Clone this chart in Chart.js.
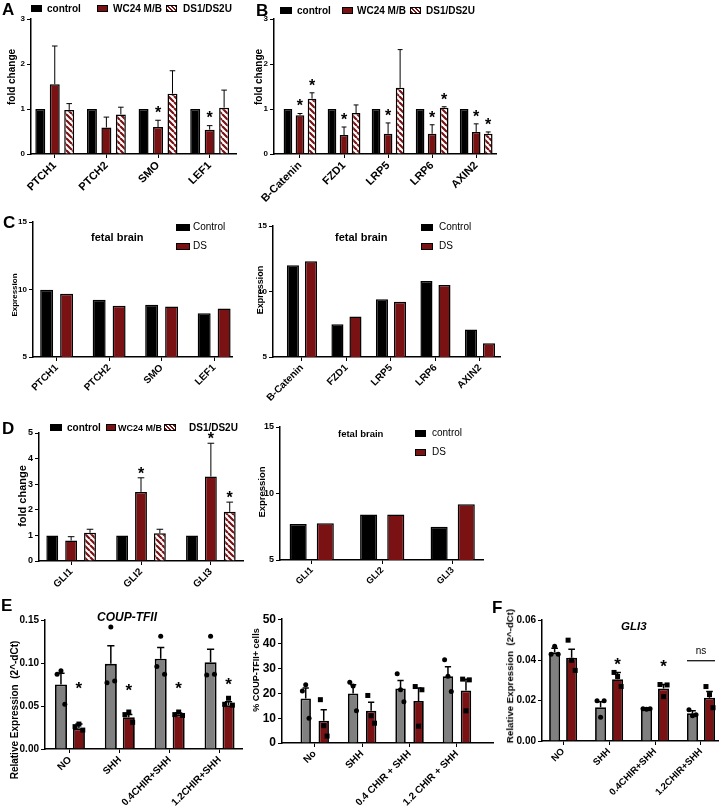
<!DOCTYPE html>
<html>
<head>
<meta charset="utf-8">
<script src="https://cdn.jsdelivr.net/npm/chart.js@4.4.0/dist/chart.umd.min.js"></script>
<style>
  body { margin: 0; background: #fff; }
  #fig { position: relative; width: 726px; height: 809px; overflow: hidden; font-family: "Liberation Sans", Arial, sans-serif; color: #000; }
  #fig canvas { position: absolute; }
  .t { position: absolute; white-space: pre; line-height: 1; transform: translateY(-50%); }
  .r { transform: translate(-50%, -50%) rotate(-90deg); }
  .sw { position: absolute; box-sizing: border-box; border: 1.5px solid #000; }
</style>
</head>
<body>
<div id="fig"></div>
<script>
// ---- A: hedgehog / wnt genes, fold change (bar top = mean, err = mean + sd)
const genesA = ['PTCH1', 'PTCH2', 'SMO', 'LEF1'];
const ctrlA = [1, 1, 1, 1];
const wcA = [1.55, 0.59, 0.6, 0.54];
const wcErrA = [2.4, 0.82, 0.75, 0.63];
const dsA = [0.98, 0.88, 1.34, 1.03];
const dsErrA = [1.12, 1.04, 1.85, 1.42];
const starWcA = [false, false, true, true];
const starDsA = [false, false, false, false];

// ---- B
const genesB = ['B-Catenin', 'FZD1', 'LRP5', 'LRP6', 'AXIN2'];
const ctrlB = [1, 1, 1, 1, 1];
const wcB = [0.86, 0.42, 0.45, 0.45, 0.49];
const wcErrB = [0.9, 0.6, 0.69, 0.65, 0.67];
const dsB = [1.23, 0.91, 1.47, 1.03, 0.45];
const dsErrB = [1.36, 1.09, 2.32, 1.05, 0.49];
const starWcB = [true, true, true, true, true];
const starDsB = [true, false, false, true, true];

// ---- C: fetal brain expression
const genesC1 = ['PTCH1', 'PTCH2', 'SMO', 'LEF1'];
const ctrlC1 = [9.98, 9.25, 8.87, 8.25];
const dsC1 = [9.68, 8.8, 8.75, 8.6];
const genesC2 = ['B-Catenin', 'FZD1', 'LRP5', 'LRP6', 'AXIN2'];
const ctrlC2 = [12.0, 7.5, 9.4, 10.8, 7.1];
const dsC2 = [12.3, 8.1, 9.22, 10.5, 6.05];

// ---- D
const genesD = ['GLI1', 'GLI2', 'GLI3'];
const ctrlD = [1, 1, 1];
const wcD = [0.8, 2.7, 3.3];
const wcErrD = [0.95, 3.25, 4.6];
const dsD = [1.1, 1.08, 1.92];
const dsErrD = [1.24, 1.24, 2.3];
const starWcD = [false, true, true];
const starDsD = [false, false, true];
const ctrlD2 = [7.7, 8.43, 7.5];
const dsD2 = [7.76, 8.43, 9.2];

// ---- E left: COUP-TFII qPCR
const condE1 = ['NO', 'SHH', '0.4CHIR+SHH', '1.2CHIR+SHH'];
const grayE1 = [0.075, 0.099, 0.105, 0.101];
const grayErrE1 = [0.088, 0.12, 0.118, 0.116];
const grayPtsE1 = [[0.091, 0.087, 0.052], [0.142, 0.077, 0.079], [0.131, 0.096, 0.087], [0.131, 0.086, 0.087]];
const redE1 = [0.024, 0.037, 0.040, 0.051];
const redErrE1 = [0.029, 0.040, 0.042, 0.055];
const redPtsE1 = [[0.029, 0.026, 0.022], [0.043, 0.040, 0.031], [0.043, 0.040, 0.039], [0.059, 0.052, 0.051]];
const starE1 = [0.075, 0.073, 0.075, 0.079];

// ---- E right: % COUP-TFII+ cells
const condE2 = ['No', 'SHH', '0.4 CHIR + SHH', '1.2 CHIR + SHH'];
const grayE2 = [18, 20, 22, 27];
const grayErrE2 = [22.2, 23.5, 25.2, 30.8];
const grayPtsE2 = [[23.5, 21, 10], [23, 24.5, 13], [21.5, 28, 16.7], [27, 33.6, 20.8]];
const redE2 = [9, 13, 17, 21.2];
const redErrE2 = [13.4, 16.5, 22.2, 25.7];
const redPtsE2 = [[7, 17.5, 2.8], [11, 19.2, 8], [6.8, 22.8, 21.5], [13, 25.8, 25.5]];

// ---- F: GLI3 qPCR
const condF = ['NO', 'SHH', '0.4CHIR+SHH', '1.2CHIR+SHH'];
const grayF = [0.044, 0.0167, 0.016, 0.0138];
const grayErrF = [0.046, 0.0195, 0.0165, 0.015];
const grayPtsF = [[0.047, 0.043, 0.043], [0.0118, 0.020, 0.020], [0.0158, 0.016, 0.016], [0.0125, 0.0155, 0.013]];
const redF = [0.0413, 0.0306, 0.026, 0.0215];
const redErrF = [0.0455, 0.034, 0.028, 0.0245];
const redPtsF = [[0.040, 0.050, 0.035], [0.032, 0.034, 0.027], [0.022, 0.028, 0.0278], [0.023, 0.027, 0.0165]];
const starF = [null, 0.040, 0.039, null];
const nsF = [null, null, null, 0.0398];

const FONT = '"Liberation Sans", Arial, sans-serif';
const RED = '#7a1214';
const GRAY = '#808080';
const JITTER = [0, -0.32, 0.32];
Chart.defaults.font.family = FONT;
Chart.defaults.color = '#000';

const fig = document.getElementById('fig');

function hatchPattern() {
  const c = document.createElement('canvas');
  c.width = 6; c.height = 6;
  const g = c.getContext('2d');
  g.fillStyle = '#fff'; g.fillRect(0, 0, 6, 6);
  g.strokeStyle = RED; g.lineWidth = 2.2;
  g.beginPath();
  for (let k = -6; k <= 6; k += 6) { g.moveTo(k, 0); g.lineTo(k + 6, 6); }
  g.stroke();
  return g.createPattern(c, 'repeat');
}
const HATCH = hatchPattern();

// error bars, dots, stars drawn on top of the bars
const overlay = {
  id: 'overlay',
  afterDatasetsDraw(chart, args, o) {
    const ctx = chart.ctx, ys = chart.scales.y;
    ctx.save();
    chart.data.datasets.forEach((ds, di) => {
      const meta = chart.getDatasetMeta(di);
      meta.data.forEach((bar, i) => {
        const x = bar.x, w = bar.width;
        let top = bar.y;
        if (ds.errTop && ds.errTop[i] != null) {
          const ey = ys.getPixelForValue(ds.errTop[i]);
          ctx.strokeStyle = '#000'; ctx.lineWidth = o.errWidth;
          ctx.beginPath();
          ctx.moveTo(x, bar.y); ctx.lineTo(x, ey);
          ctx.moveTo(x - w * o.cap, ey); ctx.lineTo(x + w * o.cap, ey);
          ctx.stroke();
          top = Math.min(top, ey);
        }
        if (ds.pts) {
          ctx.fillStyle = '#000';
          ds.pts[i].forEach((v, k) => {
            const px = x + JITTER[k % 3] * w;
            const py = ys.getPixelForValue(v);
            if (ds.ptStyle === 'square') {
              ctx.fillRect(px - o.pr, py - o.pr, o.pr * 2, o.pr * 2);
            } else {
              ctx.beginPath(); ctx.arc(px, py, o.pr, 0, Math.PI * 2); ctx.fill();
            }
          });
        }
        let sy = null;
        if (ds.starAbove && ds.starAbove[i]) sy = top - o.starGap;
        if (ds.starAt && ds.starAt[i] != null) sy = ys.getPixelForValue(ds.starAt[i]);
        if (sy != null) {
          ctx.fillStyle = '#000';
          ctx.font = `bold ${o.starSize}px ${FONT}`;
          ctx.textAlign = 'center'; ctx.textBaseline = 'alphabetic';
          ctx.fillText('*', x, sy + o.starSize * 0.55);
        }
        if (ds.nsAt && ds.nsAt[i] != null) {
          const first = chart.getDatasetMeta(0).data[i];
          const ly = ys.getPixelForValue(ds.nsAt[i]);
          const x0 = first.x - first.width / 2, x1 = x + w / 2;
          ctx.strokeStyle = '#000'; ctx.lineWidth = 1.2;
          ctx.beginPath(); ctx.moveTo(x0, ly); ctx.lineTo(x1, ly); ctx.stroke();
          ctx.fillStyle = '#000';
          ctx.font = `10px ${FONT}`;
          ctx.textAlign = 'center'; ctx.textBaseline = 'bottom';
          ctx.fillText('ns', (x0 + x1) / 2, ly - 4);
        }
      });
    });
    ctx.restore();
  }
};

function makeChart(p) {
  const cv = document.createElement('canvas');
  cv.width = p.box.w; cv.height = p.box.h;
  cv.style.left = p.box.x + 'px'; cv.style.top = p.box.y + 'px';
  fig.appendChild(cv);
  return new Chart(cv, {
    type: 'bar',
    data: {
      datasets: p.sets.map(s => ({
        ...s,
        data: s.vals.map((v, i) => ({ x: i, y: v })),
        borderColor: '#000',
        borderWidth: p.bw,
        categoryPercentage: p.cat,
        barPercentage: p.bar
      }))
    },
    options: {
      responsive: false,
      animation: false,
      events: [],
      layout: { padding: { left: 0, right: p.box.x + p.box.w - p.area.r, top: p.area.t - p.box.y, bottom: 0 } },
      plugins: { legend: { display: false }, tooltip: { enabled: false }, overlay: p.ov },
      scales: {
        x: {
          type: 'linear', min: p.xr[0], max: p.xr[1], offset: false,
          grid: { drawOnChartArea: false, offset: false, color: '#000', lineWidth: 1, tickLength: 4 },
          border: { color: '#000', width: 1.5 },
          ticks: {
            stepSize: 1, includeBounds: false, autoSkip: false, maxRotation: 45, minRotation: 45, padding: 1,
            font: { size: p.xFont, weight: 'bold' }, color: '#000',
            callback: v => p.labels[Math.round(v)] ?? ''
          },
          afterFit: s => { s.height = p.box.y + p.box.h - p.area.b; }
        },
        y: {
          min: p.y[0], max: p.y[1],
          grid: { drawOnChartArea: false, color: '#000', lineWidth: 1, tickLength: 4 },
          border: { color: '#000', width: 1.5 },
          ticks: { stepSize: p.y[2], font: { size: p.yFont, weight: 'bold' }, color: '#000', padding: 2, callback: p.yFmt || (v => v) },
          afterFit: s => { s.width = p.area.l - p.box.x; }
        }
      }
    },
    plugins: [overlay]
  });
}

function label(s, x, y, size, o = {}) {
  const d = document.createElement('div');
  d.className = 't' + (o.rot ? ' r' : '');
  d.textContent = s;
  d.style.left = x + 'px'; d.style.top = y + 'px';
  d.style.fontSize = size + 'px';
  d.style.fontWeight = o.normal ? 'normal' : 'bold';
  if (o.italic) d.style.fontStyle = 'italic';
  fig.appendChild(d);
}
function swatch(x, y, w, h, kind) {
  const d = document.createElement('div');
  d.className = 'sw';
  d.style.left = x + 'px'; d.style.top = y + 'px';
  d.style.width = w + 'px'; d.style.height = h + 'px';
  d.style.background = kind === 'hatch' ? `repeating-linear-gradient(45deg, ${RED} 0 1.5px, #fff 1.5px 3px)` : kind;
  fig.appendChild(d);
}

const fold = { cap: 0.28, errWidth: 1, starSize: 16, starGap: 11, pr: 2.5 };
const fix2 = v => v.toFixed(2);

// A
makeChart({
  box: { x: 0, y: 12, w: 245, h: 200 }, area: { l: 31, t: 19, r: 236, b: 154 }, xr: [-0.46, 3.51],
  labels: genesA, y: [0, 3, 1], yFont: 8, xFont: 11, bw: 1.5, cat: 0.84, bar: 0.69, ov: fold,
  sets: [
    { vals: ctrlA, backgroundColor: '#000' },
    { vals: wcA, backgroundColor: RED, errTop: wcErrA, starAbove: starWcA },
    { vals: dsA, backgroundColor: HATCH, errTop: dsErrA, starAbove: starDsA }
  ]
});
// B
makeChart({
  box: { x: 243, y: 12, w: 262, h: 200 }, area: { l: 274, t: 19, r: 496, b: 154 }, xr: [-0.59, 4.45],
  labels: genesB, y: [0, 3, 1], yFont: 8, xFont: 11, bw: 1.5, cat: 0.82, bar: 0.72, ov: fold,
  sets: [
    { vals: ctrlB, backgroundColor: '#000' },
    { vals: wcB, backgroundColor: RED, errTop: wcErrB, starAbove: starWcB },
    { vals: dsB, backgroundColor: HATCH, errTop: dsErrB, starAbove: starDsB }
  ]
});
// C
makeChart({
  box: { x: 0, y: 212, w: 245, h: 200 }, area: { l: 33, t: 222, r: 232, b: 357 }, xr: [-0.45, 3.34],
  labels: genesC1, y: [5, 15, 5], yFont: 8, xFont: 10, bw: 1.5, cat: 0.76, bar: 0.65, ov: fold,
  sets: [{ vals: ctrlC1, backgroundColor: '#000' }, { vals: dsC1, backgroundColor: RED }]
});
makeChart({
  box: { x: 225, y: 212, w: 282, h: 200 }, area: { l: 273, t: 226, r: 500, b: 357 }, xr: [-0.65, 4.45],
  labels: genesC2, y: [5, 15, 5], yFont: 8, xFont: 10, bw: 1.5, cat: 0.81, bar: 0.67, ov: fold,
  sets: [{ vals: ctrlC2, backgroundColor: '#000' }, { vals: dsC2, backgroundColor: RED }]
});
// D
makeChart({
  box: { x: 0, y: 425, w: 250, h: 168 }, area: { l: 39, t: 433, r: 243, b: 561 }, xr: [-0.46, 2.46],
  labels: genesD, y: [0, 5, 1], yFont: 9, xFont: 10, bw: 1.5, cat: 0.81, bar: 0.63, ov: { ...fold, starGap: 8 },
  sets: [
    { vals: ctrlD, backgroundColor: '#000' },
    { vals: wcD, backgroundColor: RED, errTop: wcErrD, starAbove: starWcD },
    { vals: dsD, backgroundColor: HATCH, errTop: dsErrD, starAbove: starDsD }
  ]
});
makeChart({
  box: { x: 250, y: 418, w: 240, h: 172 }, area: { l: 280, t: 427, r: 483, b: 560 }, xr: [-0.45, 2.43],
  labels: genesD, y: [5, 15, 5], yFont: 9, xFont: 9, bw: 1.5, cat: 0.77, bar: 0.63, ov: fold,
  sets: [{ vals: ctrlD2, backgroundColor: '#000' }, { vals: dsD2, backgroundColor: RED }]
});
// E
const qpcr = { cap: 0.3, errWidth: 1.5, starSize: 17, starGap: 10, pr: 2.5 };
makeChart({
  box: { x: 0, y: 610, w: 246, h: 199 }, area: { l: 45, t: 620, r: 242, b: 749 }, xr: [-0.5, 3.45],
  labels: condE1, y: [0, 0.15, 0.05], yFmt: fix2, yFont: 10, xFont: 10, bw: 1.8, cat: 0.72, bar: 0.67, ov: qpcr,
  sets: [
    { vals: grayE1, backgroundColor: GRAY, errTop: grayErrE1, pts: grayPtsE1, ptStyle: 'circle' },
    { vals: redE1, backgroundColor: RED, errTop: redErrE1, pts: redPtsE1, ptStyle: 'square', starAt: starE1 }
  ]
});
makeChart({
  box: { x: 246, y: 610, w: 250, h: 199 }, area: { l: 282, t: 617, r: 493, b: 743 }, xr: [-0.69, 3.76],
  labels: condE2, y: [0, 50, 10], yFont: 12, xFont: 10, bw: 1.8, cat: 0.76, bar: 0.58, ov: qpcr,
  sets: [
    { vals: grayE2, backgroundColor: GRAY, errTop: grayErrE2, pts: grayPtsE2, ptStyle: 'circle' },
    { vals: redE2, backgroundColor: RED, errTop: redErrE2, pts: redPtsE2, ptStyle: 'square' }
  ]
});
// F
makeChart({
  box: { x: 496, y: 610, w: 230, h: 199 }, area: { l: 542, t: 620, r: 718, b: 741 }, xr: [-0.46, 3.37],
  labels: condF, y: [0, 0.06, 0.02], yFmt: fix2, yFont: 10, xFont: 9.5, bw: 1.8, cat: 0.74, bar: 0.65, ov: qpcr,
  sets: [
    { vals: grayF, backgroundColor: GRAY, errTop: grayErrF, pts: grayPtsF, ptStyle: 'circle' },
    { vals: redF, backgroundColor: RED, errTop: redErrF, pts: redPtsF, ptStyle: 'square', starAt: starF, nsAt: nsF }
  ]
});

// panel letters, legends, titles
label('A', 2, 9, 17);
swatch(31, 5, 11, 7, '#000'); label('control', 47, 9, 10);
swatch(97, 5, 11, 7, RED); label('WC24 M/B', 113, 9, 10);
swatch(166, 5, 11, 7, 'hatch'); label('DS1/DS2U', 183, 9, 10);
label('fold change', 12, 77, 10, { rot: true });

label('B', 256, 10, 17);
swatch(280, 7, 12, 7, '#000'); label('control', 297, 11, 10);
swatch(342, 7, 11, 7, RED); label('WC24 M/B', 357, 11, 10);
swatch(410, 7, 11, 7, 'hatch'); label('DS1/DS2U', 426, 11, 10);
label('fold change', 259, 77, 10, { rot: true });

label('C', 3, 222, 17);
label('fetal brain', 91, 237, 11);
swatch(176, 224, 14, 7, '#000'); label('Control', 193, 227, 10, { normal: true });
swatch(176, 243, 14, 7, RED); label('DS', 193, 246, 10, { normal: true });
label('Expression', 15, 295, 8, { rot: true });
label('fetal brain', 335, 237, 11);
swatch(421, 224, 12, 7, '#000'); label('Control', 439, 227, 10, { normal: true });
swatch(421, 243, 12, 7, RED); label('DS', 439, 246, 10, { normal: true });
label('Expression', 260, 290, 9, { rot: true });

label('D', 2, 428, 17);
swatch(50, 424, 12, 7, '#000'); label('control', 67, 428, 10);
swatch(106, 424, 10, 7, RED); label('WC24 M/B', 118, 428, 9);
swatch(164, 424, 12, 7, 'hatch'); label('DS1/DS2U', 189, 428, 10);
label('fold change', 22, 496, 11, { rot: true });
label('fetal brain', 338, 434, 9.5);
swatch(415, 430, 11, 7, '#000'); label('control', 432, 433, 10, { normal: true });
swatch(415, 449, 11, 7, RED); label('DS', 432, 452, 10, { normal: true });
label('Expression', 262, 492, 9.5, { rot: true });

label('E', 1, 605, 17);
label('COUP-TFII', 97, 617, 12, { italic: true });
label('Relative Expression  (2^-dCt)', 15, 710, 10, { rot: true });
label('% COUP-TFII+ cells', 256, 670, 9, { rot: true });

label('F', 492, 607, 17);
label('GLI3', 621, 627, 11.5, { italic: true });
label('Relative Expression  (2^-dCt)', 510, 676, 9.7, { rot: true });
</script>
</body>
</html>
